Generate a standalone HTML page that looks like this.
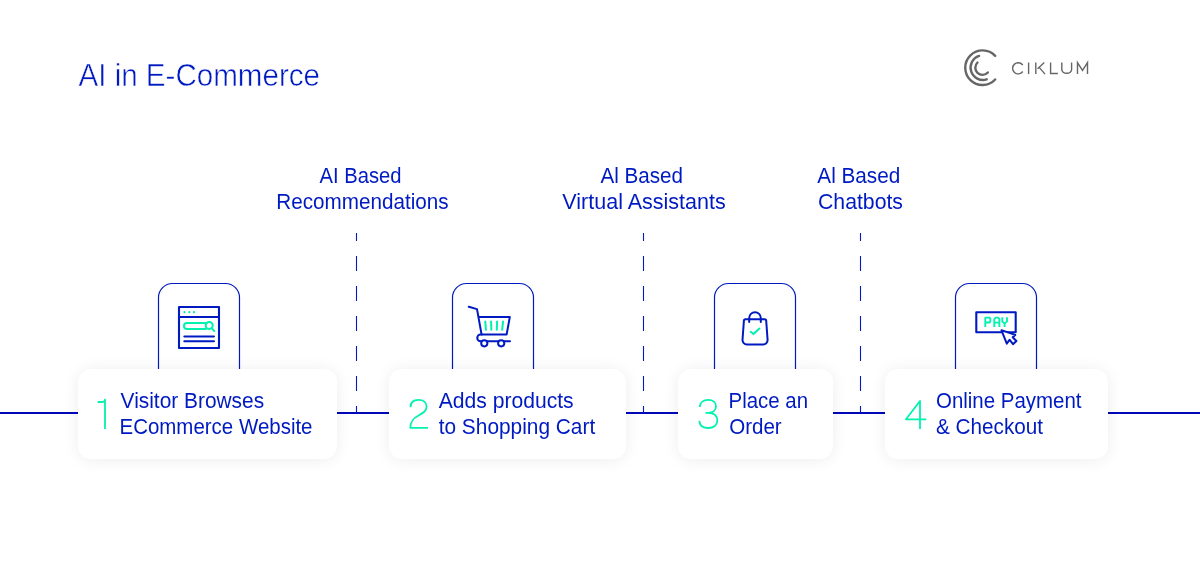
<!DOCTYPE html>
<html><head><meta charset="utf-8">
<style>
html,body{margin:0;padding:0;background:#fff;}
body{width:1200px;height:571px;position:relative;overflow:hidden;font-family:"Liberation Sans",sans-serif;}
svg{position:absolute;left:0;top:0;}
.card{position:absolute;top:369px;height:90px;background:#fff;border-radius:13px;box-shadow:0 1px 16px rgba(0,0,0,0.075);}
</style></head><body>
<svg width="1200" height="571" viewBox="0 0 1200 571" style="z-index:1">
  <!-- horizontal line -->
  <rect x="0" y="412" width="1200" height="2" fill="#0008b8"/>
  <!-- dashed lines -->
  <g stroke="#001ac2" stroke-width="1.1" fill="none">
    <path d="M356.5 233V241M356.5 256V271M356.5 286V301M356.5 316V331M356.5 346V361M356.5 376V391M356.5 406V413"/>
    <path d="M643.5 233V241M643.5 256V271M643.5 286V301M643.5 316V331M643.5 346V361M643.5 376V391M643.5 406V413"/>
    <path d="M860.5 233V241M860.5 256V271M860.5 286V301M860.5 316V331M860.5 346V361M860.5 376V391M860.5 406V413"/>
  </g>
  <!-- icon boxes -->
  <g stroke="#001ac2" stroke-width="1.2" fill="#fff">
    <path d="M158.5 380V297.5A14 14 0 0 1 172.5 283.5H225.5A14 14 0 0 1 239.5 297.5V380"/>
    <path d="M452.5 380V297.5A14 14 0 0 1 466.5 283.5H519.5A14 14 0 0 1 533.5 297.5V380"/>
    <path d="M714.5 380V297.5A14 14 0 0 1 728.5 283.5H781.5A14 14 0 0 1 795.5 297.5V380"/>
    <path d="M955.5 380V297.5A14 14 0 0 1 969.5 283.5H1022.5A14 14 0 0 1 1036.5 297.5V380"/>
  </g>
  <!-- icon 1 browser -->
  <g fill="none" stroke-linecap="round" stroke-linejoin="round">
    <rect x="179" y="307" width="40" height="41" stroke="#001ac2" stroke-width="2.1"/>
    <path d="M179 317H219" stroke="#001ac2" stroke-width="2"/>
    <path d="M184.3 336.4H214M184.3 341.3H214" stroke="#001ac2" stroke-width="2"/>
    <g fill="#00f2ae"><circle cx="184.5" cy="312.2" r="1.1"/><circle cx="189.3" cy="312.2" r="1.1"/><circle cx="194" cy="312.2" r="1.1"/></g>
    <path d="M206 323H187A3 3 0 0 0 187 329H206" stroke="#00f2ae" stroke-width="2"/>
    <circle cx="209.2" cy="325.4" r="3.5" stroke="#00f2ae" stroke-width="2"/>
    <path d="M211.5 328L214.3 331" stroke="#00f2ae" stroke-width="2"/>
  </g>
  <!-- icon 2 cart -->
  <g fill="none" stroke-linecap="round" stroke-linejoin="round">
    <path d="M468.8 306.8L477 309.1L481.6 334.6H506.6L509.8 317.1H478.8" stroke="#001ac2" stroke-width="2"/>
    <path d="M481.6 334.6H480.6A3.3 3.3 0 0 0 480.6 341.3H510" stroke="#001ac2" stroke-width="2"/>
    <circle cx="484.3" cy="343.3" r="3.1" stroke="#001ac2" stroke-width="2" fill="#fff"/>
    <circle cx="501.2" cy="343.3" r="3.1" stroke="#001ac2" stroke-width="2" fill="#fff"/>
    <path d="M485.3 321.6L485.9 329.8M491.1 321.6L491.3 329.8M497.1 321.6L496.8 329.8M503 321.6L502.2 329.8" stroke="#00f2ae" stroke-width="2"/>
  </g>
  <!-- icon 3 bag -->
  <g fill="none" stroke-linecap="round" stroke-linejoin="round">
    <path d="M745.5 319.2H764.6A1.6 1.6 0 0 1 766.2 320.8L767.6 340A4.3 4.3 0 0 1 763.3 344.4H746.8A4.3 4.3 0 0 1 742.5 340L743.9 320.8A1.6 1.6 0 0 1 745.5 319.2Z" stroke="#001ac2" stroke-width="2"/>
    <path d="M749.2 321.9V318A5.8 5.8 0 0 1 760.8 318V321.9" stroke="#001ac2" stroke-width="2"/>
    <path d="M750.7 331.8L753.5 334.1L759.4 328.6" stroke="#00f2ae" stroke-width="2"/>
  </g>
  <!-- icon 4 pay -->
  <g fill="none" stroke-linejoin="round">
    <rect x="976.3" y="312.2" width="39.4" height="20" stroke="#001ac2" stroke-width="2.1"/>
    <path d="M985.3 327V317.6H989.4L990.3 318.5V321.6L989.4 322.5H985.3" stroke="#00f2ae" stroke-width="1.9"/>
    <path d="M994.3 327V319.2L995.8 317.6H998L999.4 319.2V327M994.3 322.6H999.4" stroke="#00f2ae" stroke-width="1.9"/>
    <path d="M1002.3 317.3V321.4L1004.6 323.6V327M1007 317.3V321.4L1004.6 323.6" stroke="#00f2ae" stroke-width="1.9"/>
    <path d="M1001.5 330.3L1006.8 343.6L1009.5 339.7L1013 344.2L1016.4 341L1012.7 337.3L1015.3 334.9Z" stroke="#001ac2" stroke-width="2" fill="#fff"/>
  </g>
  <!-- ciklum logo -->
  <g fill="none" stroke="#666" stroke-width="2.4" stroke-linecap="round">
    <path d="M995.2 55.9A17.3 17.3 0 1 0 995.2 79.5"/>
    <path d="M979.1 55.9A12.3 12.3 0 1 0 986.7 79.3"/>
    <path d="M977.5 62.5A7.2 7.2 0 1 0 987.85 72.5"/>
  </g>
  <g fill="none" stroke="#666" stroke-width="1.4" transform="translate(0 0.5)">
    <path d="M1022.8 64.6A5.6 5.6 0 1 0 1022.8 71"/>
    <path d="M1028.6 62V73.6"/>
    <path d="M1035.8 62V73.6M1044.3 62L1037.6 68.2M1039.2 66.9L1045 73.6"/>
    <path d="M1050.6 62V73H1057.9"/>
    <path d="M1061.8 62V69.3A5 4.4 0 0 0 1071.6 69.3V62"/>
    <path d="M1077.5 73.6V62.2L1082.5 70L1087.5 62.2V73.6"/>
  </g>
</svg>
<div class="card" style="left:78px;width:259px;z-index:2"></div>
<div class="card" style="left:389px;width:237px;z-index:2"></div>
<div class="card" style="left:678px;width:155px;z-index:2"></div>
<div class="card" style="left:885px;width:223px;z-index:2"></div>
<svg width="1200" height="571" viewBox="0 0 1200 571" style="z-index:3;will-change:transform" font-family="Liberation Sans" fill="#001ac2">
  <text x="78.5" y="86.2" font-size="31" textLength="241.5" lengthAdjust="spacingAndGlyphs" stroke="#fff" stroke-width="0.5">AI in E-Commerce</text>
  <g font-size="21.4">
    <text x="319.5" y="183" textLength="82" lengthAdjust="spacingAndGlyphs">AI Based</text>
    <text x="276.3" y="208.8" textLength="172.3" lengthAdjust="spacingAndGlyphs">Recommendations</text>
    <text x="600.5" y="183" textLength="82.5" lengthAdjust="spacingAndGlyphs">Al Based</text>
    <text x="562.3" y="208.8" textLength="163.5" lengthAdjust="spacingAndGlyphs">Virtual Assistants</text>
    <text x="817.3" y="183" textLength="83" lengthAdjust="spacingAndGlyphs">Al Based</text>
    <text x="818" y="208.8" textLength="85" lengthAdjust="spacingAndGlyphs">Chatbots</text>

    <text x="120.6" y="407.7" textLength="143.5" lengthAdjust="spacingAndGlyphs">Visitor Browses</text>
    <text x="119.5" y="433.7" textLength="193" lengthAdjust="spacingAndGlyphs">ECommerce Website</text>
    <text x="438.7" y="407.7" textLength="135" lengthAdjust="spacingAndGlyphs">Adds products</text>
    <text x="438.7" y="433.7" textLength="156.5" lengthAdjust="spacingAndGlyphs">to Shopping Cart</text>
    <text x="728.6" y="407.7" textLength="79.5" lengthAdjust="spacingAndGlyphs">Place an</text>
    <text x="729.2" y="433.7" textLength="52.5" lengthAdjust="spacingAndGlyphs">Order</text>
    <text x="936" y="407.7" textLength="145.5" lengthAdjust="spacingAndGlyphs">Online Payment</text>
    <text x="936" y="433.7" textLength="107" lengthAdjust="spacingAndGlyphs">&amp; Checkout</text>
  </g>
  <!-- digits -->
  <g fill="none" stroke="#00f2ae" stroke-width="1.8" stroke-linecap="butt" stroke-linejoin="round">
    <path d="M97.7 402H102.2Q105 402 105 399.6V429"/>
    <path d="M410.5 407.2C410.5 402 414 399.8 418.5 399.8C423.3 399.8 426.6 402.5 426.6 406.5C426.6 411 423 413 418.5 415.5C413 418.5 410.3 421.5 410.3 427.8H428"/>
    <path d="M699.8 407C700 402.5 703.5 399.8 708.2 399.8C713 399.8 716 402.5 716 406.2C716 410.2 712.8 412.8 708.2 412.8H705.5M708.2 412.8C713.5 412.8 717.3 415.3 717.3 420.6C717.3 425.2 713.5 428 708.4 428C703.2 428 699.7 425.3 699.3 420.8"/>
    <path d="M926.3 419.3H906L920 401V429"/>
  </g>
</svg>
</body></html>
